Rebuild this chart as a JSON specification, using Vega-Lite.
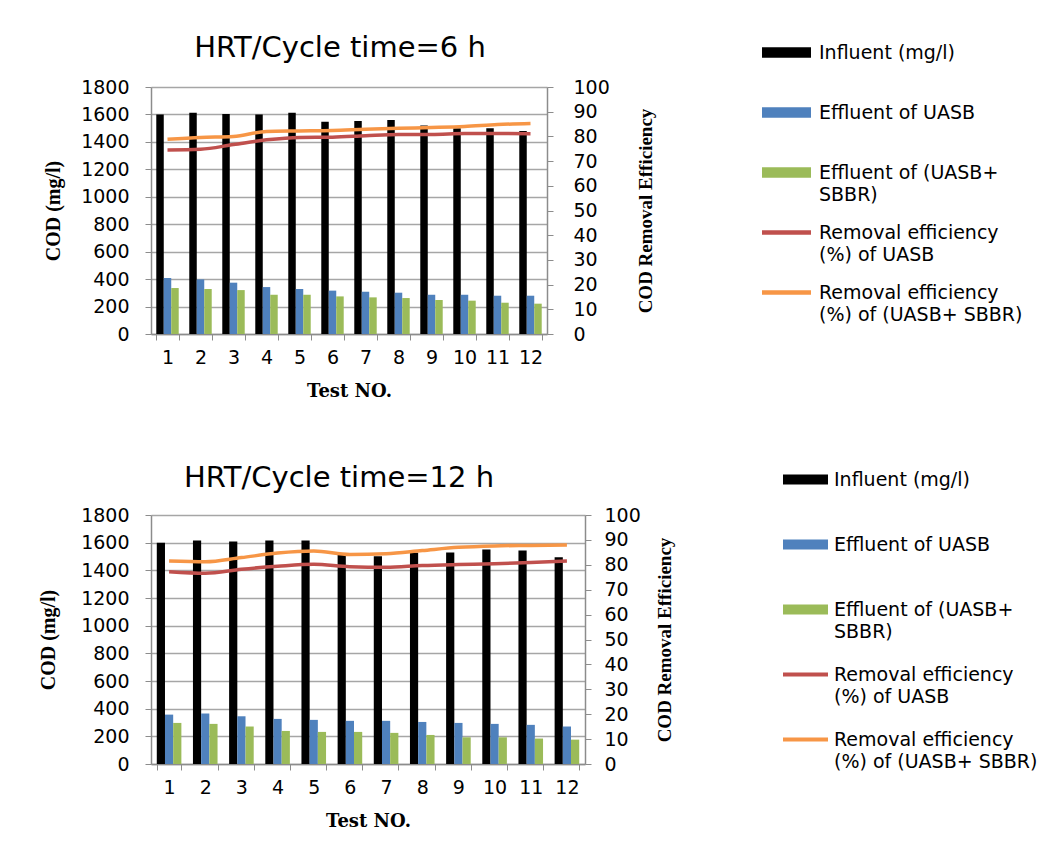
{
  "$schema": "https://vega.github.io/schema/vega-lite/v6.json",
  "background": "white",
  "padding": {"left": 38, "top": 28, "right": 0, "bottom": 0},
  "spacing": 57,
  "columns": 1,
  "datasets": {
    "bars6": [
      {"test": 1, "series": "Influent (mg/l)", "value": 1600},
      {"test": 2, "series": "Influent (mg/l)", "value": 1612},
      {"test": 3, "series": "Influent (mg/l)", "value": 1604},
      {"test": 4, "series": "Influent (mg/l)", "value": 1600},
      {"test": 5, "series": "Influent (mg/l)", "value": 1612},
      {"test": 6, "series": "Influent (mg/l)", "value": 1546},
      {"test": 7, "series": "Influent (mg/l)", "value": 1553},
      {"test": 8, "series": "Influent (mg/l)", "value": 1560},
      {"test": 9, "series": "Influent (mg/l)", "value": 1519},
      {"test": 10, "series": "Influent (mg/l)", "value": 1500},
      {"test": 11, "series": "Influent (mg/l)", "value": 1500},
      {"test": 12, "series": "Influent (mg/l)", "value": 1480},
      {"test": 1, "series": "Effluent of UASB", "value": 408},
      {"test": 2, "series": "Effluent of UASB", "value": 398},
      {"test": 3, "series": "Effluent of UASB", "value": 374},
      {"test": 4, "series": "Effluent of UASB", "value": 342},
      {"test": 5, "series": "Effluent of UASB", "value": 328},
      {"test": 6, "series": "Effluent of UASB", "value": 316},
      {"test": 7, "series": "Effluent of UASB", "value": 308},
      {"test": 8, "series": "Effluent of UASB", "value": 301},
      {"test": 9, "series": "Effluent of UASB", "value": 286},
      {"test": 10, "series": "Effluent of UASB", "value": 286},
      {"test": 11, "series": "Effluent of UASB", "value": 279},
      {"test": 12, "series": "Effluent of UASB", "value": 279},
      {"test": 1, "series": "Effluent of (UASB+ SBBR)", "value": 335},
      {"test": 2, "series": "Effluent of (UASB+ SBBR)", "value": 328},
      {"test": 3, "series": "Effluent of (UASB+ SBBR)", "value": 320},
      {"test": 4, "series": "Effluent of (UASB+ SBBR)", "value": 286},
      {"test": 5, "series": "Effluent of (UASB+ SBBR)", "value": 286},
      {"test": 6, "series": "Effluent of (UASB+ SBBR)", "value": 274},
      {"test": 7, "series": "Effluent of (UASB+ SBBR)", "value": 267},
      {"test": 8, "series": "Effluent of (UASB+ SBBR)", "value": 262},
      {"test": 9, "series": "Effluent of (UASB+ SBBR)", "value": 248},
      {"test": 10, "series": "Effluent of (UASB+ SBBR)", "value": 243},
      {"test": 11, "series": "Effluent of (UASB+ SBBR)", "value": 228},
      {"test": 12, "series": "Effluent of (UASB+ SBBR)", "value": 221}
    ],
    "lines6": [
      {"test": 1, "series": "Removal efficiency (%) of UASB", "value": 74.5},
      {"test": 2, "series": "Removal efficiency (%) of UASB", "value": 74.8},
      {"test": 3, "series": "Removal efficiency (%) of UASB", "value": 76.7},
      {"test": 4, "series": "Removal efficiency (%) of UASB", "value": 78.6},
      {"test": 5, "series": "Removal efficiency (%) of UASB", "value": 79.6},
      {"test": 6, "series": "Removal efficiency (%) of UASB", "value": 79.7},
      {"test": 7, "series": "Removal efficiency (%) of UASB", "value": 80.3},
      {"test": 8, "series": "Removal efficiency (%) of UASB", "value": 80.8},
      {"test": 9, "series": "Removal efficiency (%) of UASB", "value": 80.8},
      {"test": 10, "series": "Removal efficiency (%) of UASB", "value": 81.2},
      {"test": 11, "series": "Removal efficiency (%) of UASB", "value": 81.2},
      {"test": 12, "series": "Removal efficiency (%) of UASB", "value": 81.1},
      {"test": 1, "series": "Removal efficiency (%) of (UASB+ SBBR)", "value": 78.8},
      {"test": 2, "series": "Removal efficiency (%) of (UASB+ SBBR)", "value": 79.6},
      {"test": 3, "series": "Removal efficiency (%) of (UASB+ SBBR)", "value": 80.0},
      {"test": 4, "series": "Removal efficiency (%) of (UASB+ SBBR)", "value": 82.0},
      {"test": 5, "series": "Removal efficiency (%) of (UASB+ SBBR)", "value": 82.2},
      {"test": 6, "series": "Removal efficiency (%) of (UASB+ SBBR)", "value": 82.4},
      {"test": 7, "series": "Removal efficiency (%) of (UASB+ SBBR)", "value": 82.9},
      {"test": 8, "series": "Removal efficiency (%) of (UASB+ SBBR)", "value": 83.3},
      {"test": 9, "series": "Removal efficiency (%) of (UASB+ SBBR)", "value": 83.6},
      {"test": 10, "series": "Removal efficiency (%) of (UASB+ SBBR)", "value": 84.0},
      {"test": 11, "series": "Removal efficiency (%) of (UASB+ SBBR)", "value": 84.8},
      {"test": 12, "series": "Removal efficiency (%) of (UASB+ SBBR)", "value": 85.2}
    ],
    "bars12": [
      {"test": 1, "series": "Influent (mg/l)", "value": 1600},
      {"test": 2, "series": "Influent (mg/l)", "value": 1616},
      {"test": 3, "series": "Influent (mg/l)", "value": 1609},
      {"test": 4, "series": "Influent (mg/l)", "value": 1616},
      {"test": 5, "series": "Influent (mg/l)", "value": 1616},
      {"test": 6, "series": "Influent (mg/l)", "value": 1510},
      {"test": 7, "series": "Influent (mg/l)", "value": 1502},
      {"test": 8, "series": "Influent (mg/l)", "value": 1527},
      {"test": 9, "series": "Influent (mg/l)", "value": 1529},
      {"test": 10, "series": "Influent (mg/l)", "value": 1551},
      {"test": 11, "series": "Influent (mg/l)", "value": 1543},
      {"test": 12, "series": "Influent (mg/l)", "value": 1495},
      {"test": 1, "series": "Effluent of UASB", "value": 357},
      {"test": 2, "series": "Effluent of UASB", "value": 365},
      {"test": 3, "series": "Effluent of UASB", "value": 345},
      {"test": 4, "series": "Effluent of UASB", "value": 326},
      {"test": 5, "series": "Effluent of UASB", "value": 319},
      {"test": 6, "series": "Effluent of UASB", "value": 312},
      {"test": 7, "series": "Effluent of UASB", "value": 312},
      {"test": 8, "series": "Effluent of UASB", "value": 304},
      {"test": 9, "series": "Effluent of UASB", "value": 297},
      {"test": 10, "series": "Effluent of UASB", "value": 290},
      {"test": 11, "series": "Effluent of UASB", "value": 283},
      {"test": 12, "series": "Effluent of UASB", "value": 271},
      {"test": 1, "series": "Effluent of (UASB+ SBBR)", "value": 297},
      {"test": 2, "series": "Effluent of (UASB+ SBBR)", "value": 290},
      {"test": 3, "series": "Effluent of (UASB+ SBBR)", "value": 271},
      {"test": 4, "series": "Effluent of (UASB+ SBBR)", "value": 239},
      {"test": 5, "series": "Effluent of (UASB+ SBBR)", "value": 232},
      {"test": 6, "series": "Effluent of (UASB+ SBBR)", "value": 232},
      {"test": 7, "series": "Effluent of (UASB+ SBBR)", "value": 225},
      {"test": 8, "series": "Effluent of (UASB+ SBBR)", "value": 210},
      {"test": 9, "series": "Effluent of (UASB+ SBBR)", "value": 193},
      {"test": 10, "series": "Effluent of (UASB+ SBBR)", "value": 193},
      {"test": 11, "series": "Effluent of (UASB+ SBBR)", "value": 184},
      {"test": 12, "series": "Effluent of (UASB+ SBBR)", "value": 176}
    ],
    "lines12": [
      {"test": 1, "series": "Removal efficiency (%) of UASB", "value": 77.2},
      {"test": 2, "series": "Removal efficiency (%) of UASB", "value": 76.6},
      {"test": 3, "series": "Removal efficiency (%) of UASB", "value": 78.2},
      {"test": 4, "series": "Removal efficiency (%) of UASB", "value": 79.4},
      {"test": 5, "series": "Removal efficiency (%) of UASB", "value": 80.2},
      {"test": 6, "series": "Removal efficiency (%) of UASB", "value": 79.2},
      {"test": 7, "series": "Removal efficiency (%) of UASB", "value": 79.0},
      {"test": 8, "series": "Removal efficiency (%) of UASB", "value": 79.7},
      {"test": 9, "series": "Removal efficiency (%) of UASB", "value": 80.1},
      {"test": 10, "series": "Removal efficiency (%) of UASB", "value": 80.4},
      {"test": 11, "series": "Removal efficiency (%) of UASB", "value": 80.9},
      {"test": 12, "series": "Removal efficiency (%) of UASB", "value": 81.5},
      {"test": 1, "series": "Removal efficiency (%) of (UASB+ SBBR)", "value": 81.5},
      {"test": 2, "series": "Removal efficiency (%) of (UASB+ SBBR)", "value": 81.2},
      {"test": 3, "series": "Removal efficiency (%) of (UASB+ SBBR)", "value": 82.9},
      {"test": 4, "series": "Removal efficiency (%) of (UASB+ SBBR)", "value": 84.7},
      {"test": 5, "series": "Removal efficiency (%) of (UASB+ SBBR)", "value": 85.5},
      {"test": 6, "series": "Removal efficiency (%) of (UASB+ SBBR)", "value": 84.1},
      {"test": 7, "series": "Removal efficiency (%) of (UASB+ SBBR)", "value": 84.4},
      {"test": 8, "series": "Removal efficiency (%) of (UASB+ SBBR)", "value": 85.7},
      {"test": 9, "series": "Removal efficiency (%) of (UASB+ SBBR)", "value": 87.0},
      {"test": 10, "series": "Removal efficiency (%) of (UASB+ SBBR)", "value": 87.6},
      {"test": 11, "series": "Removal efficiency (%) of (UASB+ SBBR)", "value": 87.8},
      {"test": 12, "series": "Removal efficiency (%) of (UASB+ SBBR)", "value": 88.0}
    ]
  },
  "concat": [
    {
      "width": 396,
      "height": 247,
      "title": {"text": "HRT/Cycle time=6 h", "frame": "group", "anchor": "middle", "dx": -9, "offset": -58, "baseline": "alphabetic"},
      "layer": [
        {
          "data": {"name": "bars6"},
          "mark": {"type": "bar"},
          "encoding": {
            "x": {"field": "test", "type": "ordinal", "scale": {"paddingInner": 0.32, "paddingOuter": 0.16},
                  "axis": {"title": "Test NO.", "labelAngle": 0, "tickBand": "extent", "tickSize": 6, "labelPadding": 8, "titlePadding": 15}},
            "xOffset": {"field": "series", "type": "nominal", "scale": {"domain": ["Influent (mg/l)", "Effluent of UASB", "Effluent of (UASB+ SBBR)"], "paddingInner": 0, "paddingOuter": 0}},
            "y": {"field": "value", "type": "quantitative", "scale": {"domain": [0, 1800]},
                  "axis": {"title": "COD  (mg/l)", "format": "d", "values": [0, 200, 400, 600, 800, 1000, 1200, 1400, 1600, 1800], "grid": true, "tickSize": 6, "labelPadding": 16, "titlePadding": 17}},
            "color": {"field": "series", "type": "nominal",
              "scale": {"domain": ["Influent (mg/l)", "Effluent of UASB", "Effluent of (UASB+ SBBR)", "Removal efficiency (%) of UASB", "Removal efficiency (%) of (UASB+ SBBR)"],
                        "range": ["#000000", "#4F81BD", "#9BBB59", "#C0504D", "#F79646"]},
              "legend": {
                "title": null, "orient": "none", "legendX": 611, "legendY": -59, "direction": "vertical", "padding": 0,
                "symbolSize": 2400, "labelFontSize": 19, "labelLimit": 400, "labelOffset": 8, "rowPadding": 3,
                "labelBaseline": "middle",
                "labelExpr": "datum.label == 'Effluent of (UASB+ SBBR)' ? ['Effluent of (UASB+', 'SBBR)'] : datum.label == 'Removal efficiency (%) of UASB' ? ['Removal efficiency', '(%)  of UASB'] : datum.label == 'Removal efficiency (%) of (UASB+ SBBR)' ? ['Removal efficiency', '(%)  of  (UASB+ SBBR)'] : [datum.label, '']",
                "encode": {
                  "symbols": {"update": {
                    "shape": {"signal": "indexof(datum.value, 'Removal') == 0 ? 'M-1,-0.09H1V0.09H-1Z' : 'M-1,-0.21H1V0.21H-1Z'"},
                    "fill": {"signal": "datum.value == 'Influent (mg/l)' ? '#000000' : datum.value == 'Effluent of UASB' ? '#4F81BD' : datum.value == 'Effluent of (UASB+ SBBR)' ? '#9BBB59' : datum.value == 'Removal efficiency (%) of UASB' ? '#C0504D' : '#F79646'"},
                    "stroke": {"value": "transparent"},
                    "strokeWidth": {"value": 0},
                    "opacity": {"value": 1}
                  }},
                  "labels": {"update": {"lineHeight": {"value": 22}}}
                }
              }
            }
          }
        },
        {
          "data": {"name": "lines6"},
          "mark": {"type": "line", "strokeWidth": 3.5, "interpolate": "monotone"},
          "encoding": {
            "x": {"field": "test", "type": "ordinal"},
            "y": {"field": "value", "type": "quantitative", "scale": {"domain": [0, 100]},
                  "axis": {"orient": "right", "title": "COD  Removal Efficiency", "titleAngle": 270, "values": [0, 10, 20, 30, 40, 50, 60, 70, 80, 90, 100], "grid": false, "tickSize": 6, "labelPadding": 20, "titlePadding": 46}},
            "color": {"field": "series", "type": "nominal"}
          }
        }
      ],
      "resolve": {"scale": {"y": "independent"}}
    },
    {
      "width": 434,
      "height": 249,
      "title": {"text": "HRT/Cycle time=12 h", "frame": "group", "anchor": "middle", "dx": -29, "offset": -59, "baseline": "alphabetic"},
      "layer": [
        {
          "data": {"name": "bars12"},
          "mark": {"type": "bar"},
          "encoding": {
            "x": {"field": "test", "type": "ordinal", "scale": {"paddingInner": 0.32, "paddingOuter": 0.16},
                  "axis": {"title": "Test NO.", "labelAngle": 0, "tickBand": "extent", "tickSize": 6, "labelPadding": 8, "titlePadding": 15}},
            "xOffset": {"field": "series", "type": "nominal", "scale": {"domain": ["Influent (mg/l)", "Effluent of UASB", "Effluent of (UASB+ SBBR)"], "paddingInner": 0, "paddingOuter": 0}},
            "y": {"field": "value", "type": "quantitative", "scale": {"domain": [0, 1800]},
                  "axis": {"title": "COD  (mg/l)", "format": "d", "values": [0, 200, 400, 600, 800, 1000, 1200, 1400, 1600, 1800], "grid": true, "tickSize": 6, "labelPadding": 16, "titlePadding": 22}},
            "color": {"field": "series", "type": "nominal",
              "scale": {"domain": ["Influent (mg/l)", "Effluent of UASB", "Effluent of (UASB+ SBBR)", "Removal efficiency (%) of UASB", "Removal efficiency (%) of (UASB+ SBBR)"],
                        "range": ["#000000", "#4F81BD", "#9BBB59", "#C0504D", "#F79646"]},
              "legend": {
                "title": null, "orient": "none", "legendX": 632, "legendY": -58, "direction": "vertical", "padding": 0,
                "symbolSize": 2025, "labelFontSize": 19, "labelLimit": 400, "labelOffset": 6, "rowPadding": 10,
                "labelBaseline": "middle",
                "labelExpr": "datum.label == 'Effluent of (UASB+ SBBR)' ? ['Effluent of (UASB+', 'SBBR)'] : datum.label == 'Removal efficiency (%) of UASB' ? ['Removal efficiency', '(%)  of UASB'] : datum.label == 'Removal efficiency (%) of (UASB+ SBBR)' ? ['Removal efficiency', '(%)  of  (UASB+ SBBR)'] : [datum.label, '']",
                "encode": {
                  "symbols": {"update": {
                    "shape": {"signal": "indexof(datum.value, 'Removal') == 0 ? 'M-1,-0.09H1V0.09H-1Z' : 'M-1,-0.22H1V0.22H-1Z'"},
                    "fill": {"signal": "datum.value == 'Influent (mg/l)' ? '#000000' : datum.value == 'Effluent of UASB' ? '#4F81BD' : datum.value == 'Effluent of (UASB+ SBBR)' ? '#9BBB59' : datum.value == 'Removal efficiency (%) of UASB' ? '#C0504D' : '#F79646'"},
                    "stroke": {"value": "transparent"},
                    "strokeWidth": {"value": 0},
                    "opacity": {"value": 1}
                  }},
                  "labels": {"update": {"lineHeight": {"value": 22}}}
                }
              }
            }
          }
        },
        {
          "data": {"name": "lines12"},
          "mark": {"type": "line", "strokeWidth": 3.5, "interpolate": "monotone"},
          "encoding": {
            "x": {"field": "test", "type": "ordinal"},
            "y": {"field": "value", "type": "quantitative", "scale": {"domain": [0, 100]},
                  "axis": {"orient": "right", "title": "COD  Removal Efficiency", "titleAngle": 270, "values": [0, 10, 20, 30, 40, 50, 60, 70, 80, 90, 100], "grid": false, "tickSize": 6, "labelPadding": 13, "titlePadding": 34}},
            "color": {"field": "series", "type": "nominal"}
          }
        }
      ],
      "resolve": {"scale": {"y": "independent"}}
    }
  ],
  "resolve": {"scale": {"color": "independent", "x": "independent", "y": "independent", "xOffset": "independent"}, "legend": {"color": "independent"}},
  "config": {
    "view": {"stroke": null},
    "font": "DejaVu Sans",
    "title": {"font": "DejaVu Sans", "fontSize": 29, "fontWeight": "normal", "color": "#000000"},
    "axis": {
      "labelFont": "DejaVu Sans", "labelFontSize": 19, "labelColor": "#000000",
      "domainColor": "#8c8c8c", "tickColor": "#8c8c8c", "gridColor": "#a6a6a6", "domainWidth": 1.5, "gridWidth": 1.3,
      "titleFont": "Liberation Serif", "titleFontSize": 20, "titleFontWeight": "bold", "titleColor": "#000000"
    },
    "axisX": {"titleFont": "DejaVu Serif", "titleFontSize": 18},
    "axisRight": {"titleFontSize": 19},
    "legend": {"labelFont": "DejaVu Sans", "labelColor": "#000000"}
  }
}
